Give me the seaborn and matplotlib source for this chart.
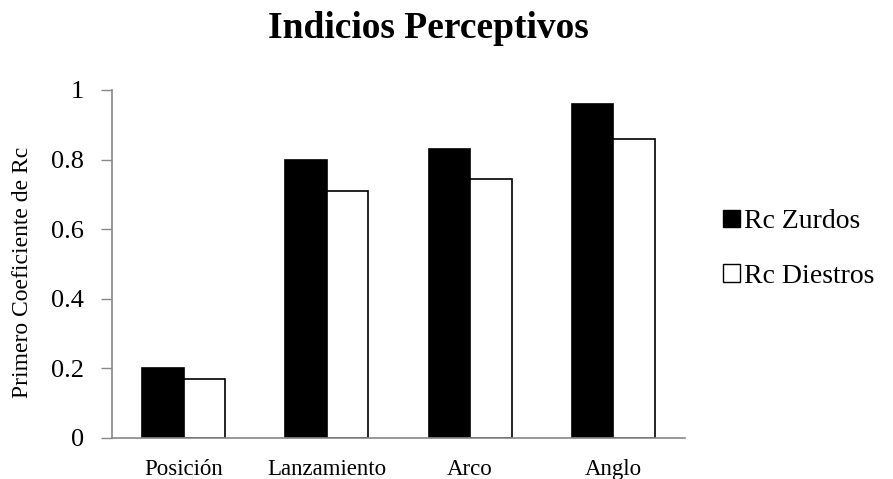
import matplotlib
matplotlib.use("Agg")
import matplotlib.pyplot as plt
import seaborn as sns
import pandas as pd
from matplotlib.patches import Patch

categories = ["Posición", "Lanzamiento", "Arco", "Anglo"]
zurdos = [0.20, 0.80, 0.83, 0.96]
diestros = [0.17, 0.71, 0.745, 0.86]
series_names = ["Rc Zurdos", "Rc Diestros"]
yticks = [0, 0.2, 0.4, 0.6, 0.8, 1]
ytick_labels = ["0", "0.2", "0.4", "0.6", "0.8", "1"]

df = pd.DataFrame({
    "cat": categories * 2,
    "val": zurdos + diestros,
    "serie": [series_names[0]] * 4 + [series_names[1]] * 4,
})

sns.set_theme(style="white")
plt.rcParams["font.family"] = ["Liberation Serif", "DejaVu Serif"]
plt.rcParams["text.color"] = "black"
plt.rcParams["axes.labelcolor"] = "black"
plt.rcParams["xtick.color"] = "black"
plt.rcParams["ytick.color"] = "black"

fig = plt.figure(figsize=(8.93, 4.79), dpi=100)
ax = fig.add_axes([112/893, 1-438/479, (685-112)/893, (438-90)/479])

sns.barplot(data=df, x="cat", y="val", hue="serie", order=categories,
            hue_order=series_names, palette=["black", "white"],
            edgecolor="black", linewidth=1.2, width=0.58, ax=ax, legend=False)

ax.set_ylim(0, 1)
ax.set_xlim(-0.5, 3.5)
ax.set_yticks(yticks)
ax.set_yticklabels(ytick_labels, fontsize=19)
ax.tick_params(axis="x", labelsize=16.5, length=0, pad=15)
ax.tick_params(axis="y", left=True, length=8, width=1, color="#888888", pad=12)
ax.set_xlabel("")
ax.set_ylabel("")
fig.text(23/893, 1-272/479, "Primero Coeficiente de Rc", rotation=90,
         ha="center", va="center", fontsize=17)
for s in ["top", "right"]:
    ax.spines[s].set_visible(False)
for s in ["left", "bottom"]:
    ax.spines[s].set_color("#888888")
    ax.spines[s].set_linewidth(1.2)

fig.text(428/893, 1-28/479, "Indicios Perceptivos", ha="center", va="center",
         fontsize=27, fontweight="bold")

handles = [Patch(facecolor="black", edgecolor="black", label=series_names[0]),
           Patch(facecolor="white", edgecolor="black", label=series_names[1])]
fig.legend(handles=handles, loc="center left", bbox_to_anchor=(698/893, 1-249/479),
           frameon=False, fontsize=20, handlelength=0.6, handleheight=0.6,
           handletextpad=0.15, labelspacing=1.05)

fig.savefig("out.png", dpi=100)
